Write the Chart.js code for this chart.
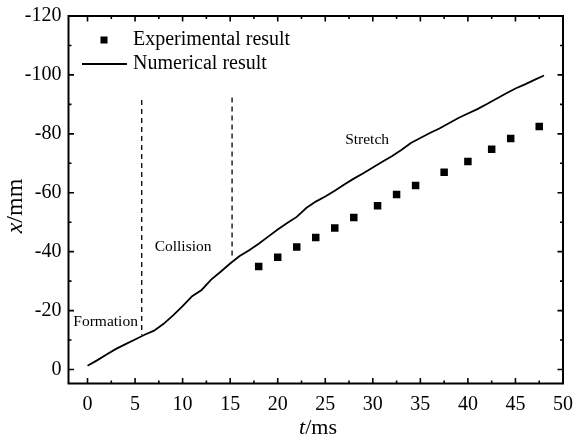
<!DOCTYPE html>
<html>
<head>
<meta charset="utf-8">
<script src="https://cdn.jsdelivr.net/npm/chart.js@4/dist/chart.umd.min.js"></script>
<style>
  html, body { margin: 0; padding: 0; background: #fff; }
  #wrap { width: 576px; height: 442px; }
</style>
</head>
<body>
<div id="wrap"><canvas id="chart" width="576" height="442"></canvas></div>
<script>
// numerical simulation, displacement x (mm) against time t (ms)
const numTime = [0, 1, 2, 3, 4, 5, 6, 7, 8, 9, 10, 11, 12, 13, 14, 15, 16, 17, 18, 19, 20, 21, 22, 23, 24,
  25, 26, 27, 28, 29, 30, 31, 32, 33, 34, 35, 36, 37, 38, 39, 40, 41, 42, 43, 44, 45, 46, 47, 48];
const numX = [-1.3, -3.1, -5.1, -7.0, -8.6, -10.2, -11.8, -13.2, -15.5, -18.4, -21.5, -24.9, -27.0, -30.5,
  -33.2, -36.0, -38.5, -40.5, -42.7, -45.1, -47.5, -49.7, -51.8, -54.8, -57.0, -58.7, -60.7, -62.8, -64.8,
  -66.6, -68.6, -70.5, -72.4, -74.5, -76.9, -78.6, -80.3, -81.8, -83.6, -85.4, -86.9, -88.4, -90.1, -91.9,
  -93.7, -95.4, -96.8, -98.3, -99.8];

// measured points
const expTime = [18, 20, 22, 24, 26, 28, 30.5, 32.5, 34.5, 37.5, 40, 42.5, 44.5, 47.5];
const expX = [-35.0, -38.1, -41.6, -44.8, -48.0, -51.6, -55.6, -59.4, -62.5, -67.0, -70.6, -74.8, -78.4, -82.5];

// phase boundaries (dashed), with their vertical extent
const phaseT = [5.7, 15.2];
const phaseTop = [-91.5, -92.3];
const phaseBottom = [-11.8, -37.6];

// phase names and where they sit
const phaseNames = ['Formation', 'Collision', 'Stretch'];
const phaseNameT = [1.9, 10.05, 29.4];
const phaseNameX = [-16.1, -41.5, -78.1];

const xTicks = [0, 5, 10, 15, 20, 25, 30, 35, 40, 45, 50];
const yTicks = [-120, -100, -80, -60, -40, -20, 0];

const serif = '"Liberation Serif", "Times New Roman", serif';

const toPts = (ts, vs) => ts.map((t, i) => ({ x: t, y: vs[i] }));

const datasets = [
  {
    type: 'line',
    label: 'Numerical result',
    data: toPts(numTime, numX),
    borderColor: '#000',
    borderWidth: 1.8,
    pointRadius: 0,
    tension: 0,
    order: 2
  },
  {
    type: 'scatter',
    label: 'Experimental result',
    data: toPts(expTime, expX),
    pointStyle: 'rect',
    pointRadius: 5.3,
    backgroundColor: '#000',
    borderWidth: 0,
    order: 1
  }
];
phaseT.forEach((t, i) => {
  datasets.push({
    type: 'line',
    label: 'boundary' + i,
    data: [{ x: t, y: phaseTop[i] }, { x: t, y: phaseBottom[i] }],
    borderColor: '#000',
    borderWidth: 1.3,
    borderDash: [5, 4],
    pointRadius: 0,
    order: 3
  });
});

// frame with inward ticks on all four sides, labels, legend and axis titles
const framePlugin = {
  id: 'frame',
  afterDraw(chart) {
    const { ctx, chartArea: a, scales } = chart;
    const sx = scales.x, sy = scales.y;
    ctx.save();
    ctx.strokeStyle = '#000';
    ctx.lineWidth = 2;
    ctx.strokeRect(a.left, a.top, a.right - a.left, a.bottom - a.top);

    ctx.lineWidth = 1.6;
    ctx.beginPath();
    for (let t = 0; t <= 50; t += 2.5) {
      const len = t % 5 === 0 ? 5.5 : 3;
      const px = sx.getPixelForValue(t);
      ctx.moveTo(px, a.bottom); ctx.lineTo(px, a.bottom - len);
      ctx.moveTo(px, a.top); ctx.lineTo(px, a.top + len);
    }
    for (let v = -120; v <= 0; v += 10) {
      const len = v % 20 === 0 ? 5.5 : 3;
      const py = sy.getPixelForValue(v);
      ctx.moveTo(a.left, py); ctx.lineTo(a.left + len, py);
      ctx.moveTo(a.right, py); ctx.lineTo(a.right - len, py);
    }
    ctx.stroke();

    // phase names
    ctx.fillStyle = '#000';
    ctx.font = '15.5px ' + serif;
    ctx.textAlign = 'center';
    ctx.textBaseline = 'middle';
    phaseNames.forEach((name, i) => {
      ctx.fillText(name, sx.getPixelForValue(phaseNameT[i]), sy.getPixelForValue(phaseNameX[i]));
    });

    // legend
    ctx.font = '20px ' + serif;
    ctx.textAlign = 'left';
    ctx.fillRect(100.5, 36.5, 7, 7);
    ctx.fillText('Experimental result', 133, 40);
    ctx.lineWidth = 1.8;
    ctx.beginPath();
    ctx.moveTo(82, 64); ctx.lineTo(127, 64);
    ctx.stroke();
    ctx.fillText('Numerical result', 133, 64);

    // axis titles: italic symbol, upright unit
    const drawTitle = (sym, unit, size) => {
      ctx.font = 'italic ' + size + 'px ' + serif;
      const w1 = ctx.measureText(sym).width;
      ctx.font = size + 'px ' + serif;
      const w2 = ctx.measureText(unit).width;
      const start = -(w1 + w2) / 2;
      ctx.textAlign = 'left';
      ctx.font = 'italic ' + size + 'px ' + serif;
      ctx.fillText(sym, start, 0);
      ctx.font = size + 'px ' + serif;
      ctx.fillText(unit, start + w1, 0);
    };
    ctx.textBaseline = 'middle';
    ctx.save();
    ctx.translate(318, 428);
    drawTitle('t', '/ms', 22);
    ctx.restore();

    ctx.save();
    ctx.translate(16, 206);
    ctx.rotate(-Math.PI / 2);
    drawTitle('x', '/mm', 24);
    ctx.restore();

    ctx.restore();
  }
};

new Chart(document.getElementById('chart'), {
  data: { datasets },
  options: {
    responsive: false,
    animation: false,
    layout: { padding: { left: 0, right: 13, top: 16, bottom: 0 } },
    plugins: {
      legend: { display: false },
      tooltip: { enabled: false }
    },
    scales: {
      x: {
        type: 'linear',
        min: -2,
        max: 50,
        afterFit(scale) {
          scale.height = 58.5;
          scale.paddingLeft = 0;
          scale.paddingRight = 0;
        },
        afterBuildTicks(scale) { scale.ticks = xTicks.map(v => ({ value: v })); },
        grid: { display: false, drawTicks: false },
        border: { display: false },
        ticks: {
          color: '#000',
          padding: 9,
          font: { family: serif, size: 20 }
        }
      },
      y: {
        type: 'linear',
        reverse: true,
        min: -120,
        max: 4.75,
        afterFit(scale) {
          scale.width = 68.5;
          scale.paddingTop = 0;
          scale.paddingBottom = 0;
        },
        afterBuildTicks(scale) { scale.ticks = yTicks.map(v => ({ value: v })); },
        grid: { display: false, drawTicks: false },
        border: { display: false },
        ticks: {
          color: '#000',
          padding: 7,
          font: { family: serif, size: 20 }
        }
      }
    }
  },
  plugins: [framePlugin]
});
</script>
</body>
</html>
